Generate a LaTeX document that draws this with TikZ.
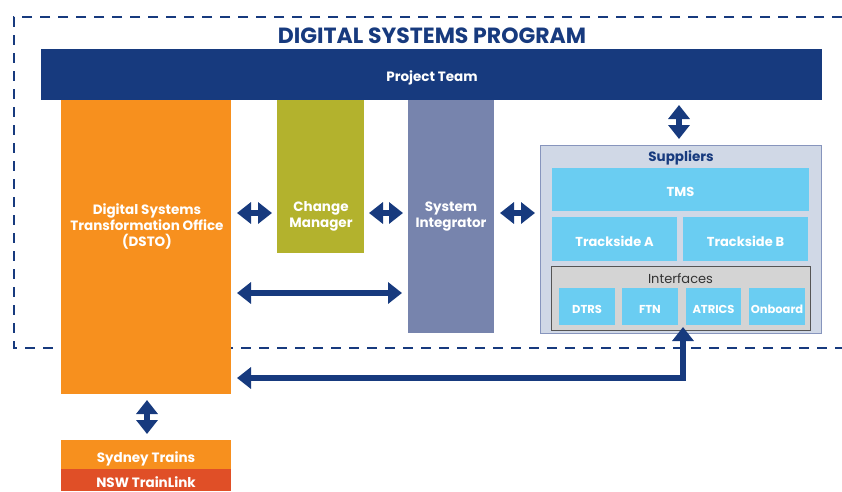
\documentclass[tikz,border=0pt]{standalone}
\usepackage{fontspec}
\setmainfont{Poppins}
\usetikzlibrary{arrows.meta}
\definecolor{navy}{HTML}{173A7E}
\definecolor{dsorange}{HTML}{F7901E}
\definecolor{olive}{HTML}{B3B22D}
\definecolor{slate}{HTML}{7784AD}
\definecolor{supbg}{HTML}{D0D8E6}
\definecolor{supborder}{HTML}{8795BD}
\definecolor{cyanbox}{HTML}{6ACDF2}
\definecolor{graybg}{HTML}{D4D4D4}
\definecolor{grayborder}{HTML}{555555}
\definecolor{redorange}{HTML}{E04F27}
\begin{document}
\begin{tikzpicture}[x=1pt,y=-1pt,
  box/.style={rectangle, inner sep=0pt, outer sep=0pt, anchor=north west},
  wtext/.style={text=white, font=\bfseries\fontsize{13.5}{16}\selectfont, align=center, inner sep=0pt, yshift=-1.5pt},
  smalltext/.style={text=white, font=\bfseries\fontsize{11.5}{13}\selectfont, align=center, inner sep=0pt, yshift=-1pt},
  dar/.style={{Triangle[width=21pt,length=14pt]}-{Triangle[width=21pt,length=14pt]}, line width=6pt, draw=navy},
  border/.style={draw=navy, line width=1.8pt, dash pattern=on 10pt off 8pt}
]
\useasboundingbox (0,0) rectangle (842,491);
% dashed program frame
\draw[border] (842,17) -- (14,17) -- (14,348) -- (842,348);
\node[text=navy, font=\bfseries\fontsize{22}{26}\selectfont, anchor=base, inner sep=0pt] (title) at (432,43) {DIGITAL SYSTEMS PROGRAM};
% project team
\node[box, fill=navy, minimum width=781pt, minimum height=51pt] (pt) at (41,49) {};
\node[wtext] (pttext) at (432,76) {Project Team};
% main columns
\node[box, fill=dsorange, minimum width=170pt, minimum height=294pt] (dsto) at (61,100) {};
\node[wtext] (dstotext) at (147,225) {Digital Systems\\Transformation Office\\(DSTO)};
\node[box, fill=olive, minimum width=87pt, minimum height=153pt] (cm) at (277,100) {};
\node[wtext] (cmtext) at (321,215) {Change\\Manager};
\node[box, fill=slate, minimum width=86pt, minimum height=233pt] (si) at (408,100) {};
\node[wtext] (sitext) at (451,215) {System\\Integrator};
% suppliers
\node[box, fill=supbg, draw=supborder, line width=0.8pt, minimum width=281pt, minimum height=188pt] (sup) at (540,145) {};
\node[text=navy, font=\bfseries\fontsize{13.5}{16}\selectfont, inner sep=0pt, yshift=-1pt] (suptext) at (681,157) {Suppliers};
\node[box, fill=cyanbox, minimum width=257pt, minimum height=43pt] (tms) at (552,168) {};
\node[wtext, font=\bfseries\fontsize{13}{16}\selectfont] (tmstext) at (680.5,190) {TMS};
\node[box, fill=cyanbox, minimum width=125pt, minimum height=44pt] (tsa) at (552,217) {};
\node[wtext, font=\bfseries\fontsize{13}{16}\selectfont] (tsatext) at (614.5,240) {Trackside A};
\node[box, fill=cyanbox, minimum width=125pt, minimum height=44pt] (tsb) at (683,217) {};
\node[wtext, font=\bfseries\fontsize{13}{16}\selectfont] (tsbtext) at (745.5,240) {Trackside B};
\node[box, fill=graybg, draw=grayborder, line width=0.8pt, minimum width=259pt, minimum height=64pt] (ifc) at (551,266) {};
\node[text=black!80, font=\fontsize{13}{15}\selectfont, inner sep=0pt, yshift=-1pt] (ifctext) at (680.5,278) {Interfaces};
\node[box, fill=cyanbox, minimum width=56pt, minimum height=37pt] (dtrs) at (559,288) {};
\node[smalltext] (dtrstext) at (587,308) {DTRS};
\node[box, fill=cyanbox, minimum width=56pt, minimum height=37pt] (ftn) at (622,288) {};
\node[smalltext] (ftntext) at (650,308) {FTN};
\node[box, fill=cyanbox, minimum width=55pt, minimum height=37pt] (atrics) at (686,288) {};
\node[smalltext] (atricstext) at (713.5,308) {ATRICS};
\node[box, fill=cyanbox, minimum width=56pt, minimum height=37pt] (onb) at (749,288) {};
\node[smalltext] (onbtext) at (777,308) {Onboard};
% operators
\node[box, fill=dsorange, minimum width=170pt, minimum height=29pt] (syd) at (61,440) {};
\node[wtext] (sydtext) at (146,457) {Sydney Trains};
\node[box, fill=redorange, minimum width=170pt, minimum height=22pt] (nsw) at (61,469) {};
\node[wtext] (nswtext) at (146,481) {NSW TrainLink};
% connectors
\coordinate (ptlow) at (679,100);
\coordinate (corner) at (683,378);
\draw[dar, shorten <=5pt, shorten >=6pt] (ptlow) -- (ptlow |- sup.north);
\draw[dar, shorten <=6pt, shorten >=5pt] (dsto.east |- 0,213) -- (cm.west |- 0,213);
\draw[dar, shorten <=5pt, shorten >=5pt] (cm.east |- 0,213) -- (si.west |- 0,213);
\draw[dar, shorten <=6pt, shorten >=5pt] (si.east |- 0,213) -- (sup.west |- 0,213);
\draw[dar, shorten <=6pt, shorten >=6pt] (dsto.east |- 0,293) -- (si.west |- 0,293);
\draw[dar, shorten <=6pt, shorten >=6pt] (dsto.south -| 147,0) -- (syd.north -| 147,0);
\draw[dar, shorten <=6pt, shorten >=2pt, line join=miter] (dsto.east |- corner) -- (corner) -- (corner |- atrics.south);
\end{tikzpicture}
\end{document}
